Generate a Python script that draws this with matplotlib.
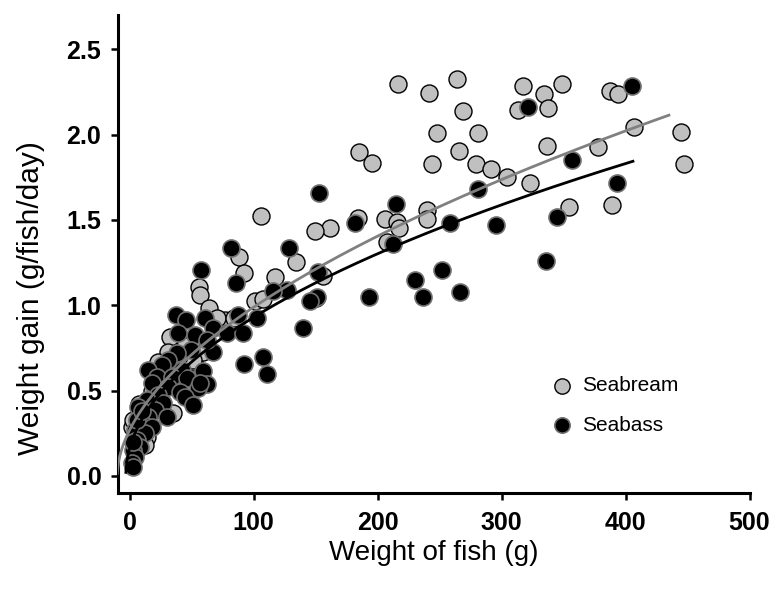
import numpy as np
import matplotlib
matplotlib.use("Agg")
import matplotlib.pyplot as plt

plt.rcParams['font.family'] = ['Liberation Sans', 'DejaVu Sans']

# seabream (grey) points
bream_x = [216.8, 241.8, 264.1, 268.7, 247.7, 280.8, 265.7, 243.7, 279.2, 185.1,
           195.3, 239.7, 240.2, 206.0, 215.5, 217.3, 184.0, 161.7, 149.6, 134.0,
           207.4, 155.8, 117.1, 317.1, 348.5, 334.3, 387.5, 393.7, 313.5, 337.5,
           407.1, 444.8, 336.5, 377.6, 447.4, 291.5, 304.2, 323.2, 354.4, 389.1,
           150.0, 105.8, 88.6, 92.3, 56.0, 56.9, 101.5, 107.9, 64.4, 77.0,
           70.3, 84.5, 52.0, 59.5, 32.7, 31.3, 51.5, 23.2, 35.3, 13.9,
           12.5, 1.8, 3.0, 8.0, 18.0, 27.0, 40.0, 45.0]
bream_y = [2.295, 2.246, 2.328, 2.137, 2.006, 2.006, 1.905, 1.825, 1.825, 1.895,
           1.834, 1.557, 1.503, 1.503, 1.485, 1.454, 1.509, 1.454, 1.434, 1.255,
           1.372, 1.171, 1.163, 2.287, 2.297, 2.237, 2.256, 2.237, 2.143, 2.156,
           2.045, 2.016, 1.934, 1.924, 1.827, 1.796, 1.752, 1.714, 1.575, 1.585,
           1.04, 1.524, 1.281, 1.187, 1.105, 1.060, 1.026, 1.036, 0.982, 0.913,
           0.923, 0.923, 0.669, 0.728, 0.816, 0.728, 0.679, 0.669, 0.367, 0.230,
           0.181, 0.289, 0.33, 0.42, 0.50, 0.60, 0.70, 0.76]

# seabass (black) points
bass_x = [153.1, 214.9, 182.1, 258.5, 128.6, 212.7, 151.8, 126.8, 251.8, 230.2,
          266.5, 236.5, 193.4, 151.0, 145.6, 405.0, 321.1, 356.6, 281.3, 392.9,
          345.0, 295.3, 335.6,
          81.6, 57.7, 85.9, 115.5, 60.9, 87.7, 102.6, 67.1, 78.4, 91.3,
          52.8, 140.2, 67.6, 92.3, 107.9, 110.6, 59.5, 62.3,
          37.5, 45.6, 39.4, 62.3, 49.6, 38.1, 31.3, 26.0, 14.7, 42.1,
          21.9, 34.0, 46.1, 55.5, 17.9, 31.3, 40.7, 44.8, 51.5, 23.2,
          13.9, 27.3, 7.1, 20.6, 30.0, 15.2, 9.8, 17.9, 4.4, 12.5,
          5.8, 8.5, 3.1, 4.4, 1.8, 3.1, 2.5, 6.0, 10.0, 56.9]
bass_y = [1.659, 1.591, 1.480, 1.480, 1.337, 1.357, 1.196, 1.089, 1.206, 1.148,
          1.076, 1.046, 1.046, 1.046, 1.026, 2.283, 2.159, 1.850, 1.679, 1.717,
          1.518, 1.468, 1.257,
          1.337, 1.206, 1.128, 1.085, 0.923, 0.943, 0.923, 0.868, 0.835, 0.835,
          0.826, 0.865, 0.728, 0.654, 0.695, 0.597, 0.617, 0.539,
          0.943, 0.913, 0.835, 0.796, 0.738, 0.718, 0.679, 0.650, 0.621, 0.621,
          0.581, 0.581, 0.572, 0.513, 0.543, 0.523, 0.494, 0.465, 0.416, 0.474,
          0.445, 0.426, 0.406, 0.386, 0.347, 0.347, 0.309, 0.289, 0.269, 0.250,
          0.211, 0.172, 0.152, 0.113, 0.074, 0.05, 0.20, 0.33, 0.38, 0.543]

# power trend lines y = a * (x + c) ** b, coefficients
bream_fit = (0.0766, 10.0, 0.544, 435.0)
bass_fit = (0.0928, 3.0, 0.497, 406.0)

fig = plt.figure(figsize=(7.7, 5.9), dpi=100)
ax = fig.add_axes([118 / 770, 97 / 590, 631.5 / 770, 478 / 590])

ax.scatter(bream_x, bream_y, s=150, c='#c0c0c0', edgecolors='black',
           linewidths=1.0, zorder=2, label='Seabream')
ax.scatter(bass_x, bass_y, s=150, c='black', edgecolors='#707070',
           linewidths=1.2, zorder=3, label='Seabass')

for (a, c, b, xmax), col in [(bream_fit, '#808080'), (bass_fit, 'black')]:
    xs = np.linspace(-c + 0.05, xmax, 400)
    ax.plot(xs, a * (xs + c) ** b, color=col, lw=2.0, zorder=4)

ax.set_xlim(-9.3, 500)
ax.set_ylim(-0.1, 2.7)
ax.set_xticks([0, 100, 200, 300, 400, 500])
ax.set_yticks([0.0, 0.5, 1.0, 1.5, 2.0, 2.5])
ax.set_yticklabels(['0.0', '0.5', '1.0', '1.5', '2.0', '2.5'])
for s in ['top', 'right']:
    ax.spines[s].set_visible(False)
for s in ['left', 'bottom']:
    ax.spines[s].set_linewidth(2.2)
ax.tick_params(direction='out', length=5, width=1.8, labelsize=18)
ax.tick_params(axis='y', pad=7)
ax.tick_params(axis='x', pad=8)
for lab in ax.get_xticklabels() + ax.get_yticklabels():
    lab.set_fontweight('bold')

ax.set_xlabel('Weight of fish (g)', fontsize=20)
ax.set_ylabel('Weight gain (g/fish/day)', fontsize=21.5)
ax.yaxis.set_label_coords(-0.116, 0.408)
ax.xaxis.set_label_coords(0.5, -0.098)

ax.legend(loc='upper left', bbox_to_anchor=(552 / 770, 1 - 376 / 590),
          bbox_transform=fig.transFigure, frameon=False, fontsize=15,
          handlelength=1.0, handletextpad=0.46, labelspacing=1.0,
          markerscale=0.9, borderpad=0, borderaxespad=0)

fig.savefig('out.png', dpi=100)
